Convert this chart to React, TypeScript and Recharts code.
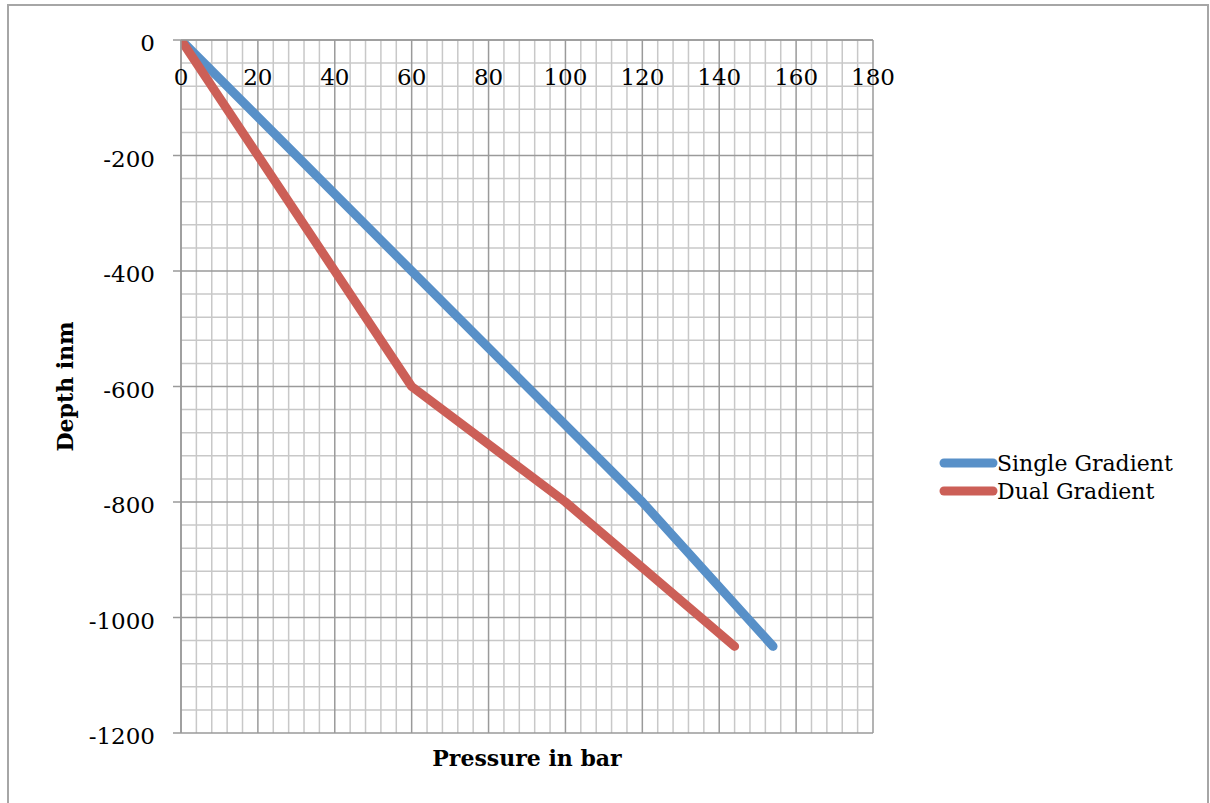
import React from 'react';
import { LineChart, Line, XAxis, YAxis, ReferenceLine } from 'recharts';

// Axis tick values
const pressureTicks = [0, 20, 40, 60, 80, 100, 120, 140, 160, 180];
const depthTicks = [-1200, -1000, -800, -600, -400, -200, 0];

// Single gradient profile: pressure (bar) against depth (m)
const singlePressure = [0, 30, 60, 90, 120, 154];
const singleDepth = [0, -200, -400, -600, -800, -1050];

// Dual gradient profile
const dualPressure = [0, 20, 40, 60, 100, 144];
const dualDepth = [0, -200, -400, -600, -800, -1050];

const seriesNames = ['Single Gradient', 'Dual Gradient'];
const seriesColors = ['#5890c8', '#cc5f57'];

const FONT = "'DejaVu Serif', serif";
const MAJOR = '#9a9a9a';
const MINOR = '#c8c8c8';
const PLOT_TOP = 40;
const TICK_SIZE = 23;

const singleData = singlePressure.map((p, i) => ({ p, d: singleDepth[i] }));
const dualData = dualPressure.map((p, i) => ({ p, d: dualDepth[i] }));

// Minor grid: 5 subdivisions per major step
const minorPressure: number[] = [];
for (let v = 0; v <= 180; v += 4) if (v % 20 !== 0) minorPressure.push(v);
const minorDepth: number[] = [];
for (let v = -1200; v <= 0; v += 40) if (v % 200 !== 0) minorDepth.push(v);

// Pressure labels sit just under the zero-depth line, inside the plot
const renderTopTick = (props: any) => {
  const { x, payload } = props;
  return (
    <text key={`t${payload.value}`} x={x} y={PLOT_TOP + 45} textAnchor="middle" fontSize={TICK_SIZE} fill="#000" fontFamily={FONT}>
      {payload.value}
    </text>
  );
};

function DepthTitle(props: any) {
  const vb = props.viewBox || { x: 0, y: 0, width: 0, height: 0 };
  const cx = vb.x - 56;
  const cy = vb.y + vb.height / 2;
  return (
    <text
      x={cx}
      y={cy}
      transform={`rotate(-90, ${cx}, ${cy})`}
      textAnchor="middle"
      dominantBaseline="central"
      fontSize={22}
      fontWeight="bold"
      fill="#000"
      fontFamily={FONT}
    >
      Depth inm
    </text>
  );
}

function PressureTitle(props: any) {
  const vb = props.viewBox || { x: 0, y: 0, width: 0, height: 0 };
  return (
    <text
      x={vb.x + vb.width / 2}
      y={vb.y + 33}
      textAnchor="middle"
      fontSize={22}
      fontWeight="bold"
      fill="#000"
      fontFamily={FONT}
    >
      Pressure in bar
    </text>
  );
}

export default function App() {
  return (
    <div style={{ position: 'absolute', left: 0, top: 0, width: 1210, height: 803, background: '#fff', overflow: 'hidden' }}>
      <div
        style={{
          position: 'absolute',
          left: 7,
          top: 4,
          width: 1202,
          height: 799,
          borderTop: '2px solid #a6a6a6',
          borderLeft: '2px solid #a6a6a6',
          borderRight: '2px solid #a6a6a6',
          boxSizing: 'border-box',
        }}
      />
      <div style={{ position: 'absolute', left: 0, top: 0 }}>
        <LineChart
          width={1210}
          height={803}
          margin={{ top: PLOT_TOP - 1, right: 337, bottom: 0, left: 121 }}
          style={{ fontFamily: FONT }}
        >
          <XAxis
            xAxisId="top"
            type="number"
            dataKey="p"
            orientation="top"
            domain={[0, 180]}
            ticks={pressureTicks}
            interval={0}
            height={1}
            tickSize={0}
            tickMargin={0}
            tickLine={false}
            axisLine={{ stroke: MAJOR, strokeWidth: 1.5 }}
            tick={renderTopTick}
            allowDataOverflow
          />
          <XAxis
            xAxisId="bottom"
            type="number"
            orientation="bottom"
            domain={[0, 180]}
            height={70}
            tick={false}
            tickLine={false}
            axisLine={false}
            label={<PressureTitle />}
          />
          <YAxis
            type="number"
            dataKey="d"
            domain={[-1200, 0]}
            ticks={depthTicks}
            interval={0}
            width={60}
            tickSize={8}
            tickMargin={18}
            tickLine={{ stroke: MAJOR, strokeWidth: 1.5 }}
            axisLine={{ stroke: MAJOR, strokeWidth: 1.5 }}
            tick={{ fill: '#000', fontSize: TICK_SIZE, dy: 3, fontFamily: FONT }}
            label={<DepthTitle />}
            allowDataOverflow
          />
          {minorPressure.map((v) => (
            <ReferenceLine key={`mx${v}`} xAxisId="top" x={v} stroke={MINOR} strokeWidth={1.5} />
          ))}
          {minorDepth.map((v) => (
            <ReferenceLine key={`my${v}`} xAxisId="top" y={v} stroke={MINOR} strokeWidth={1.5} />
          ))}
          {pressureTicks.map((v) => (
            <ReferenceLine key={`Mx${v}`} xAxisId="top" x={v} stroke={MAJOR} strokeWidth={1.5} />
          ))}
          {depthTicks.map((v) => (
            <ReferenceLine key={`My${v}`} xAxisId="top" y={v} stroke={MAJOR} strokeWidth={1.5} />
          ))}
          <Line
            xAxisId="top"
            data={singleData}
            dataKey="d"
            name={seriesNames[0]}
            stroke={seriesColors[0]}
            strokeWidth={9}
            strokeLinecap="round"
            strokeLinejoin="round"
            dot={false}
            activeDot={false}
            isAnimationActive={false}
          />
          <Line
            xAxisId="top"
            data={dualData}
            dataKey="d"
            name={seriesNames[1]}
            stroke={seriesColors[1]}
            strokeWidth={9}
            strokeLinecap="round"
            strokeLinejoin="round"
            dot={false}
            activeDot={false}
            isAnimationActive={false}
          />
        </LineChart>
      </div>
      <div style={{ position: 'absolute', left: 936, top: 449, fontFamily: FONT, fontSize: 22, color: '#000' }}>
        {seriesNames.map((name, i) => (
          <div key={name} style={{ display: 'flex', alignItems: 'center', height: 28, whiteSpace: 'nowrap' }}>
            <svg width={62} height={12} style={{ display: 'block' }}>
              <line x1={8} y1={6} x2={57} y2={6} stroke={seriesColors[i]} strokeWidth={9} strokeLinecap="round" />
            </svg>
            <span style={{ marginLeft: -1 }}>{name}</span>
          </div>
        ))}
      </div>
    </div>
  );
}
